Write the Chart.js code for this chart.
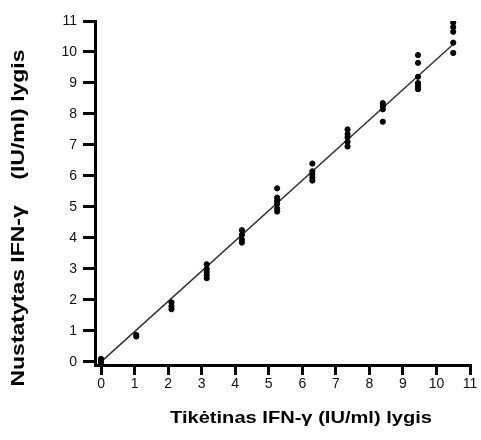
<!DOCTYPE html>
<html>
<head>
<meta charset="utf-8">
<script src="https://cdn.jsdelivr.net/npm/chart.js@4/dist/chart.umd.min.js"></script>
<style>
  html, body { margin: 0; padding: 0; background: #fff; }
  #wrap { width: 481px; height: 440px; }
</style>
</head>
<body>
<div id="wrap"><canvas id="grafico"></canvas></div>
<script>
// tikėtini lygiai (x) ir išmatuoti taškai kiekvienam lygiui (y)
const tiketini = [0, 1.05, 2.1, 3.15, 4.2, 5.25, 6.3, 7.35, 8.4, 9.45, 10.5];
const nustatyti = [
    [0.1, 0.02, -0.05],
    [0.87, 0.82],
    [1.92, 1.8, 1.7],
    [3.15, 3.0, 2.9, 2.8, 2.7],
    [4.25, 4.1, 3.95, 3.85],
    [5.6, 5.3, 5.2, 5.1, 4.95, 4.85],
    [6.4, 6.15, 6.05, 5.95, 5.85],
    [7.5, 7.35, 7.25, 7.1, 6.95],
    [8.35, 8.25, 8.15, 7.75],
    [9.9, 9.65, 9.2, 9.0, 8.9, 8.8],
    [10.95, 10.8, 10.65, 10.3, 9.97]
];
const linijaX = [0, 10.55];
const linijaY = [0, 10.3];
const ticksX = [0, 1, 2, 3, 4, 5, 6, 7, 8, 9, 10, 11];
const ticksY = [0, 1, 2, 3, 4, 5, 6, 7, 8, 9, 10, 11];
const pavX = 'Tikėtinas IFN-γ (IU/ml) lygis';
const pavY = 'Nustatytas IFN-γ    (IU/ml) lygis';

let taskai = [];
for (let i = 0; i < tiketini.length; i++) {
    for (let j = 0; j < nustatyti[i].length; j++) {
        taskai.push({ x: tiketini[i], y: nustatyti[i][j] });
    }
}
let linija = [];
for (let i = 0; i < linijaX.length; i++) {
    linija.push({ x: linijaX[i], y: linijaY[i] });
}

// ašių pavadinimai piešiami patys, kad būtų tiksliai ten kur originale
function tekstas(c, txt, cx, cy, ilgis, kampas) {
    c.save();
    c.translate(cx, cy);
    c.rotate(kampas);
    const w = c.measureText(txt).width;
    c.scale(ilgis / w, 1);
    c.fillText(txt, 0, 0);
    c.restore();
}

const pavadinimai = {
    id: 'pavadinimai',
    afterDraw(chart) {
        const c = chart.ctx;
        c.save();
        c.fillStyle = '#000';
        c.font = 'bold 17px "Liberation Sans", Arial, sans-serif';
        c.textAlign = 'center';
        c.textBaseline = 'middle';
        tekstas(c, pavX, 301, 418, 262, 0);
        c.font = 'bold 18px "Liberation Sans", Arial, sans-serif';
        tekstas(c, pavY, 19, 218, 337, -Math.PI / 2);
        c.restore();
    }
};

const tinklasX = {
    drawOnChartArea: false,
    drawTicks: true,
    tickLength: 10,
    tickWidth: 3,
    lineWidth: 3,
    color: '#000'
};
const tinklasY = {
    drawOnChartArea: false,
    drawTicks: true,
    tickLength: 12,
    tickWidth: 3,
    lineWidth: 3,
    color: '#000'
};

new Chart(document.getElementById('grafico'), {
    type: 'scatter',
    data: {
        datasets: [
            {
                data: taskai,
                backgroundColor: '#000',
                borderColor: '#000',
                pointRadius: 2.6,
                pointHoverRadius: 3
            },
            {
                data: linija,
                showLine: true,
                borderColor: '#333',
                borderWidth: 1.5,
                pointRadius: 0,
                fill: false
            }
        ]
    },
    options: {
        responsive: true,
        maintainAspectRatio: false,
        animation: false,
        layout: {
            padding: { top: 21, right: 11, left: 0, bottom: 0 }
        },
        plugins: {
            legend: { display: false },
            title: { display: false },
            tooltip: { enabled: false }
        },
        scales: {
            x: {
                type: 'linear',
                min: -0.18,
                max: 11,
                afterFit(scale) { scale.height = 75; },
                afterBuildTicks(scale) {
                    scale.ticks = ticksX.map(v => ({ value: v }));
                },
                ticks: {
                    color: '#111',
                    font: { family: '"Liberation Sans", Arial, sans-serif', size: 14 },
                    padding: 1,
                    maxRotation: 0
                },
                grid: tinklasX,
                border: { display: true, color: '#000', width: 3 }
            },
            y: {
                type: 'linear',
                min: -0.1,
                max: 11,
                afterFit(scale) { scale.width = 95; },
                afterBuildTicks(scale) {
                    scale.ticks = ticksY.map(v => ({ value: v }));
                },
                ticks: {
                    color: '#111',
                    font: { family: '"Liberation Sans", Arial, sans-serif', size: 14 },
                    padding: 6
                },
                grid: tinklasY,
                border: { display: true, color: '#000', width: 3 }
            }
        }
    },
    plugins: [pavadinimai]
});
</script>
</body>
</html>
